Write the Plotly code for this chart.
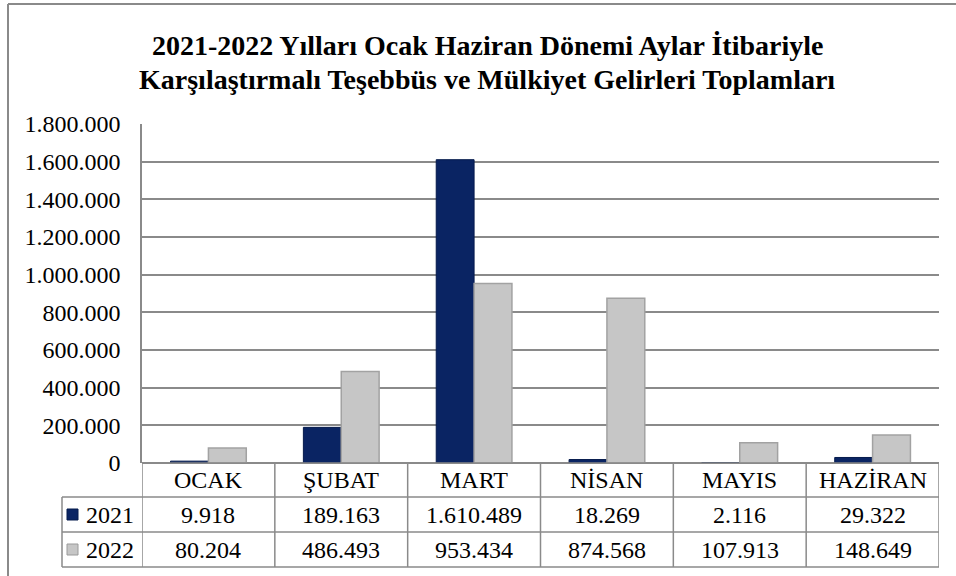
import plotly.graph_objects as go

# ---- data ----
months = ["OCAK", "ŞUBAT", "MART", "NİSAN", "MAYIS", "HAZİRAN"]
series_names = ["2021", "2022"]
values_2021 = [9918, 189163, 1610489, 18269, 2116, 29322]
values_2022 = [80204, 486493, 953434, 874568, 107913, 148649]
y_tickvals = [0, 200000, 400000, 600000, 800000, 1000000, 1200000, 1400000, 1600000, 1800000]
y_ticktext = ["0", "200.000", "400.000", "600.000", "800.000", "1.000.000",
              "1.200.000", "1.400.000", "1.600.000", "1.800.000"]
title_lines = ["2021-2022 Yılları Ocak Haziran Dönemi Aylar İtibariyle",
               "Karşılaştırmalı Teşebbüs ve Mülkiyet Gelirleri Toplamları"]

W, H = 956, 576
def px(x): return x / W
def py(y): return 1 - y / H

def fmt(v):
    return f"{v:,}".replace(",", ".")

NAVY = "#0a2463"
GRAY = "#c6c6c6"
LINE = "#8a8a8a"
FONT = "Times New Roman, Liberation Serif, Tinos, DejaVu Serif, serif"
TS = 24

fig = go.Figure()
fig.add_trace(go.Bar(x=list(range(len(months))), y=values_2021, name=series_names[0],
                     marker=dict(color=NAVY, line=dict(color="#051a4c", width=1))))
fig.add_trace(go.Bar(x=list(range(len(months))), y=values_2022, name=series_names[1],
                     marker=dict(color=GRAY, line=dict(color="#a2a2a2", width=1.5))))

plot_left, plot_right = 142, 939
plot_top, plot_bottom = 124, 463
row_lines = [463, 497, 532, 567]
label_left = 62

fig.update_layout(
    width=W, height=H,
    margin=dict(l=0, r=0, t=0, b=0),
    paper_bgcolor="white", plot_bgcolor="white",
    barmode="group", bargap=0.43, bargroupgap=0,
    showlegend=False,
    font=dict(family=FONT, size=TS, color="#000000"),
    xaxis=dict(domain=[px(plot_left), px(plot_right)], range=[-0.5, len(months) - 0.5],
               showticklabels=False, showgrid=False, zeroline=False, ticks="",
               fixedrange=True),
    yaxis=dict(domain=[py(plot_bottom), py(plot_top)], range=[0, 1800000],
               tickvals=y_tickvals, ticktext=y_ticktext,
               showgrid=True, gridcolor=LINE, gridwidth=1.5,
               zeroline=True, zerolinecolor=LINE, zerolinewidth=1.5,
               showline=True, linecolor=LINE, linewidth=1.5,
               ticks="", ticklabelstandoff=15, automargin=False,
               tickfont=dict(family=FONT, size=TS, color="#000")),
)

annotations = []
for j, (line_text, yc) in enumerate(zip(title_lines, [45, 79])):
    annotations.append(dict(text="<b>" + line_text + "</b>",
                            xref="paper", yref="paper", x=px(487), y=py(yc),
                            xanchor="center", yanchor="middle", showarrow=False,
                            font=dict(family=FONT, size=28, color="#000")))

row_centers = [(row_lines[i] + row_lines[i + 1]) / 2 for i in range(3)]
for i, m in enumerate(months):
    annotations.append(dict(text=m, xref="x", yref="paper", x=i, y=py(row_centers[0]),
                            showarrow=False, xanchor="center", yanchor="middle",
                            font=dict(family=FONT, size=TS)))
    annotations.append(dict(text=fmt(values_2021[i]), xref="x", yref="paper", x=i,
                            y=py(row_centers[1]), showarrow=False,
                            xanchor="center", yanchor="middle", font=dict(family=FONT, size=TS)))
    annotations.append(dict(text=fmt(values_2022[i]), xref="x", yref="paper", x=i,
                            y=py(row_centers[2]), showarrow=False,
                            xanchor="center", yanchor="middle", font=dict(family=FONT, size=TS)))

for k, name in enumerate(series_names):
    annotations.append(dict(text=name, xref="paper", yref="paper", x=px(110),
                            y=py(row_centers[k + 1]), showarrow=False,
                            xanchor="center", yanchor="middle", font=dict(family=FONT, size=TS)))

shapes = []
shapes.append(dict(type="line", xref="paper", yref="paper", x0=px(8), x1=1, y0=py(4), y1=py(4),
                   line=dict(color=LINE, width=2)))
shapes.append(dict(type="line", xref="paper", yref="paper", x0=px(8), x1=px(8), y0=py(4), y1=0,
                   line=dict(color=LINE, width=2)))
for i in range(len(months) + 1):
    shapes.append(dict(type="line", xref="x", yref="paper", x0=i - 0.5, x1=i - 0.5,
                       y0=py(row_lines[0]), y1=py(row_lines[-1]),
                       line=dict(color=LINE, width=1.5)))
shapes.append(dict(type="line", xref="paper", yref="paper", x0=px(label_left), x1=px(label_left),
                   y0=py(row_lines[1]), y1=py(row_lines[-1]), line=dict(color=LINE, width=1.5)))
shapes.append(dict(type="line", xref="x", yref="paper", x0=-0.5, x1=len(months) - 0.5,
                   y0=py(row_lines[0]), y1=py(row_lines[0]), line=dict(color=LINE, width=1.5)))
for r in row_lines[1:]:
    shapes.append(dict(type="line", xref="paper", yref="paper", x0=px(label_left), x1=px(plot_right),
                       y0=py(r), y1=py(r), line=dict(color=LINE, width=1.5)))
key_colors = [NAVY, GRAY]
key_lines = ["#051a4c", "#9a9a9a"]
for k in range(2):
    cy = row_centers[k + 1]
    shapes.append(dict(type="rect", xref="paper", yref="paper",
                       x0=px(67), x1=px(78), y0=py(cy + 5.5), y1=py(cy - 5.5),
                       fillcolor=key_colors[k], line=dict(color=key_lines[k], width=1)))

fig.update_layout(annotations=annotations, shapes=shapes)
fig.write_html("out.html",
               config={"displayModeBar": False},
               post_script="document.documentElement.style.margin='0';"
                           "document.body.style.margin='0';"
                           "document.body.style.overflow='hidden';")
